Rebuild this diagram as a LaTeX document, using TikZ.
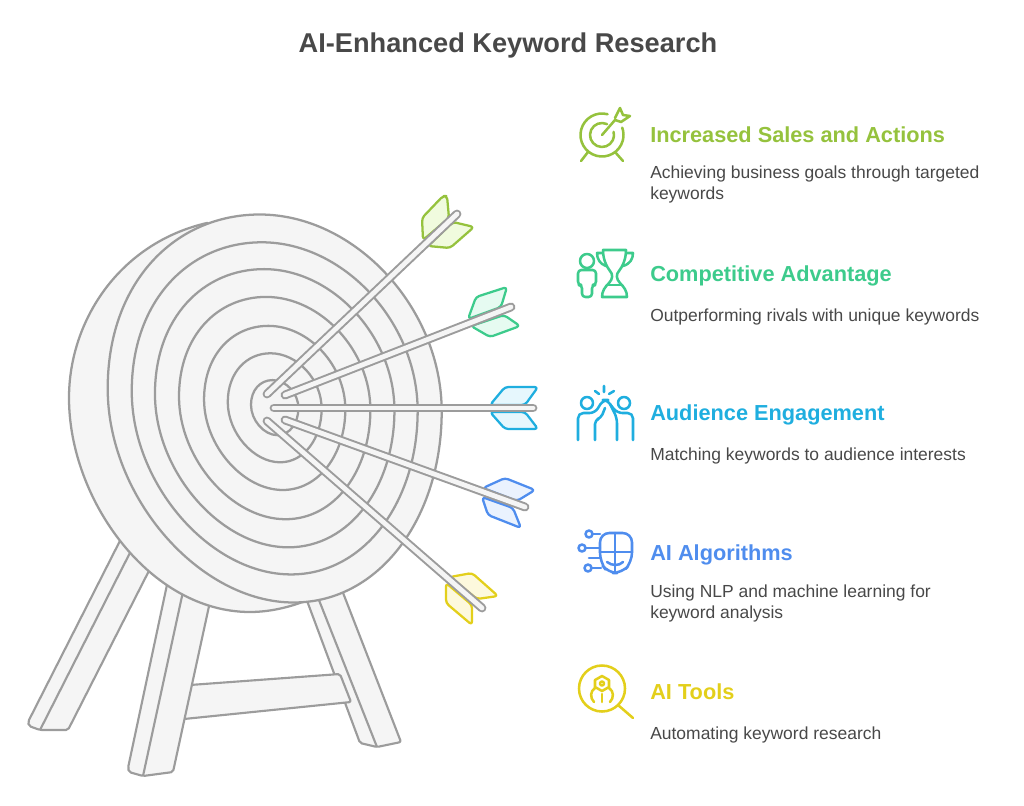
\documentclass[tikz,border=0pt]{standalone}
\usepackage{fontspec}
\setmainfont{Liberation Sans}
\definecolor{gline}{HTML}{9C9C9C}
\definecolor{gfill}{HTML}{F5F5F5}
\definecolor{ctxt}{HTML}{484848}
\definecolor{cA}{HTML}{95C23D}\definecolor{fA}{HTML}{F0FBDE}
\definecolor{cB}{HTML}{3DCB8C}\definecolor{fB}{HTML}{E6FBF1}
\definecolor{cC}{HTML}{1FAEDF}\definecolor{fC}{HTML}{E6F7FD}
\definecolor{cD}{HTML}{4F8DEE}\definecolor{fD}{HTML}{EAF2FE}
\definecolor{cE}{HTML}{E3CF1B}\definecolor{fE}{HTML}{FDF9DD}
\tikzset{
  wood/.style={draw=gline,fill=gfill,line width=1.6pt,line join=round,rounded corners=1.5pt},
  woodline/.style={draw=gline,line width=1.6pt},
  ring/.style={draw=gline,fill=gfill,line width=1.7pt},
  shaftout/.style={draw=gline,line width=6.6pt,line cap=round},
  shaftin/.style={draw=gfill,line width=3.6pt,line cap=round},
  fin/.style={line width=1.7pt,line join=round,rounded corners=2.5pt},
  ico/.style={line width=1.9pt,line cap=round,line join=round},
  ttl/.style={anchor=base,font=\fontsize{20.4pt}{24pt}\selectfont\bfseries,text=ctxt,inner sep=0pt},
  hd/.style={anchor=base west,font=\fontsize{16.3pt}{20pt}\selectfont\bfseries,inner sep=0pt},
  bd/.style={anchor=base west,font=\fontsize{13.1pt}{15pt}\selectfont,text=ctxt,inner sep=0pt}
}
\begin{document}
\begin{tikzpicture}[x=.75pt,y=-.75pt]
\useasboundingbox (0,0) rectangle (1024,806);
\node[ttl] (title) at (508,53) {AI-Enhanced Keyword Research};
% back legs
\draw[wood] (128,525) -- (28,722) -- (29,726) -- (40,730) -- (68,730) -- (157,555) -- cycle;
\draw[woodline] (138,537) -- (40,730);
\draw[wood] (303,590) -- (360,743) -- (377,747) -- (401,742) -- (340,585) -- cycle;
\draw[woodline] (315,590) -- (377,747);
% crossbar
\draw[wood] (190,685) -- (340,674) -- (351,702) -- (184,719) -- cycle;
% front leg
\draw[wood] (168,580) -- (128,768) -- (129,772) -- (143,776) -- (173,772) -- (211,597) -- cycle;
\draw[woodline] (184,587) -- (143,776);
% target
\draw[ring] (207,223) .. controls (120,243) and (69,320) .. (69,398) .. controls (69,500) and (150,612) .. (250,612) .. controls (270,612) and (290,607) .. (305,601) -- (330,500) -- (280,300) -- cycle;
\foreach \s in {1,.856,.717,.573,.423,.281,.142}{
  \begin{scope}[shift={(274.7,407.5)},x=\s*.75pt,y=-\s*.75pt]
  \draw[ring] (-15,-193) .. controls (80,-193) and (167,-100) .. (167,4) .. controls (167,110) and (105,195) .. (19,195) .. controls (-75,195) and (-167,90) .. (-167,-19) .. controls (-167,-125) and (-100,-193) .. (-15,-193) -- cycle;
  \end{scope}
}
% arrows
\newcommand{\arrowshaft}[2]{\draw[shaftout] (#1) -- (#2);\draw[shaftin] (#1) -- (#2);}
\draw[fin,draw=cA,fill=fA] (423,240) -- (422,218) -- (443,196) -- (447,196) -- (449,218) -- cycle;
\draw[fin,draw=cA,fill=fA] (428,246) -- (450,248) -- (474,227) -- (453,222) -- cycle;
\arrowshaft{267,394}{457,214}
\draw[fin,draw=cB,fill=fB] (468,319) -- (476,297) -- (507,287) -- (501,307) -- cycle;
\draw[fin,draw=cB,fill=fB] (471,326) -- (490,337) -- (520,326) -- (504,315) -- cycle;
\arrowshaft{285,395}{511,307}
\draw[fin,draw=cC,fill=fC] (490,405) -- (505,387) -- (538,387) -- (525,405) -- cycle;
\draw[fin,draw=cC,fill=fC] (490,412) -- (505,429) -- (538,429) -- (525,412) -- cycle;
\arrowshaft{274,408}{533,408}
\draw[fin,draw=cD,fill=fD] (483,488) -- (505,478) -- (535,490) -- (517,501) -- cycle;
\draw[fin,draw=cD,fill=fD] (482,497) -- (488,515) -- (521,528) -- (513,508) -- cycle;
\arrowshaft{285,420}{525,507}
\draw[fin,draw=cE,fill=fE] (450,577) -- (472,573) -- (498,596) -- (477,599) -- cycle;
\draw[fin,draw=cE,fill=fE] (446,583) -- (446,603) -- (472,625) -- (472,605) -- cycle;
\arrowshaft{267,421}{482,608}
% icon 1: target
\begin{scope}[ico]
\draw[draw=cA] (602,135) ++(-75:21.5) arc [start angle=-75,end angle=-380,radius=21.5];
\draw[draw=cA] (602,135) ++(-65:12) arc [start angle=-65,end angle=-375,radius=12];
\draw[draw=cA] (602,135) -- (615,120);
\draw[draw=cA] (615,118) -- (620,108) -- (623,115) -- (630,116) -- (621,122) -- (615,120);
\draw[draw=cA] (588,152) -- (581,161) (615,152) -- (623,161);
\end{scope}
% icon 2: person and trophy
\begin{scope}[ico]
\draw[draw=cB] (587,261) circle [radius=7];
\draw[draw=cB,rounded corners=2.5pt] (582,297) -- (582,285) -- (578,285) -- (578,270) -- (596,270) -- (596,285) -- (592,285) -- (592,297) -- cycle;
\draw[draw=cB] (603,250) -- (626,250) .. controls (626,260) and (622,267) .. (619,271) .. controls (616,274) and (616,279) .. (620,283) .. controls (624,287) and (627,291) .. (627,297) -- (602,297) .. controls (602,291) and (605,287) .. (609,283) .. controls (613,279) and (613,274) .. (610,271) .. controls (607,267) and (603,260) .. (603,250) -- cycle;
\draw[draw=cB] (603,253) -- (597,253) .. controls (597,259) and (600,264) .. (606,266);
\draw[draw=cB] (626,253) -- (633,253) .. controls (633,259) and (630,264) .. (623,266);
\draw[draw=cB] (607,285) -- (622,285);
\end{scope}
% icon 3: high five
\begin{scope}[ico]
\draw[draw=cC] (587,403) circle [radius=6];
\draw[draw=cC] (624,403) circle [radius=6];
\draw[draw=cC] (604,386) -- (604,392) (595,391) -- (599,394) (614,391) -- (609,394);
\draw[draw=cC,rounded corners=4pt] (578,440) -- (578,413) -- (595,413) -- (603,400) -- (608,400) -- (617,418) -- (617,440);
\draw[draw=cC,rounded corners=4pt] (633,440) -- (633,413) -- (617,413) -- (610,404);
\draw[draw=cC,rounded corners=3pt] (595,440) -- (595,420) -- (601,418) -- (605,408);
\end{scope}
% icon 4: AI head
\begin{scope}[ico]
\draw[draw=cD,rounded corners=7pt] (600,533) -- (632,533) -- (632,562) -- (622,573) -- (608,573) -- (600,562) -- cycle;
\draw[draw=cD] (615,533) -- (615,573) (600,552) -- (632,552);
\draw[draw=cD] (607,562) .. controls (612,566) and (619,566) .. (623,562);
\draw[draw=cD] (589,534) circle [radius=3.5] (582,548) circle [radius=3.5] (588,568) circle [radius=3.5];
\draw[draw=cD] (593,534) -- (600,534) (586,548) -- (600,548) (589,558) -- (600,558) (592,568) -- (601,568);
\end{scope}
% icon 5: magnifier
\begin{scope}[ico]
\draw[draw=cE] (602,688.5) circle [radius=23];
\draw[draw=cE] (618,705) -- (633,718);
\draw[draw=cE] (602,676) -- (609,680) -- (609,687) -- (602,691) -- (595,687) -- (595,680) -- cycle;
\draw[draw=cE] (602,683.5) circle [radius=2];
\draw[draw=cE] (602,694) -- (602,702);
\draw[draw=cE] (595,688) .. controls (590,691) and (590,698) .. (594,702);
\draw[draw=cE] (609,688) .. controls (614,691) and (614,698) .. (610,702);
\end{scope}
% texts
\node[hd,text=cA] (h1) at (650,143) {Increased Sales and Actions};
\node[bd] (b1a) at (650,178.7) {Achieving business goals through targeted};
\node[bd] (b1b) at (650,199.7) {keywords};
\node[hd,text=cB] (h2) at (650,281) {Competitive Advantage};
\node[bd] (b2) at (650,321) {Outperforming rivals with unique keywords};
\node[hd,text=cC] (h3) at (650,420) {Audience Engagement};
\node[bd] (b3) at (650,460.5) {Matching keywords to audience interests};
\node[hd,text=cD] (h4) at (650,560) {AI Algorithms};
\node[bd] (b4a) at (650,597.5) {Using NLP and machine learning for};
\node[bd] (b4b) at (650,618.5) {keyword analysis};
\node[hd,text=cE] (h5) at (650,699) {AI Tools};
\node[bd] (b5) at (650,739.5) {Automating keyword research};
\end{tikzpicture}
\end{document}
